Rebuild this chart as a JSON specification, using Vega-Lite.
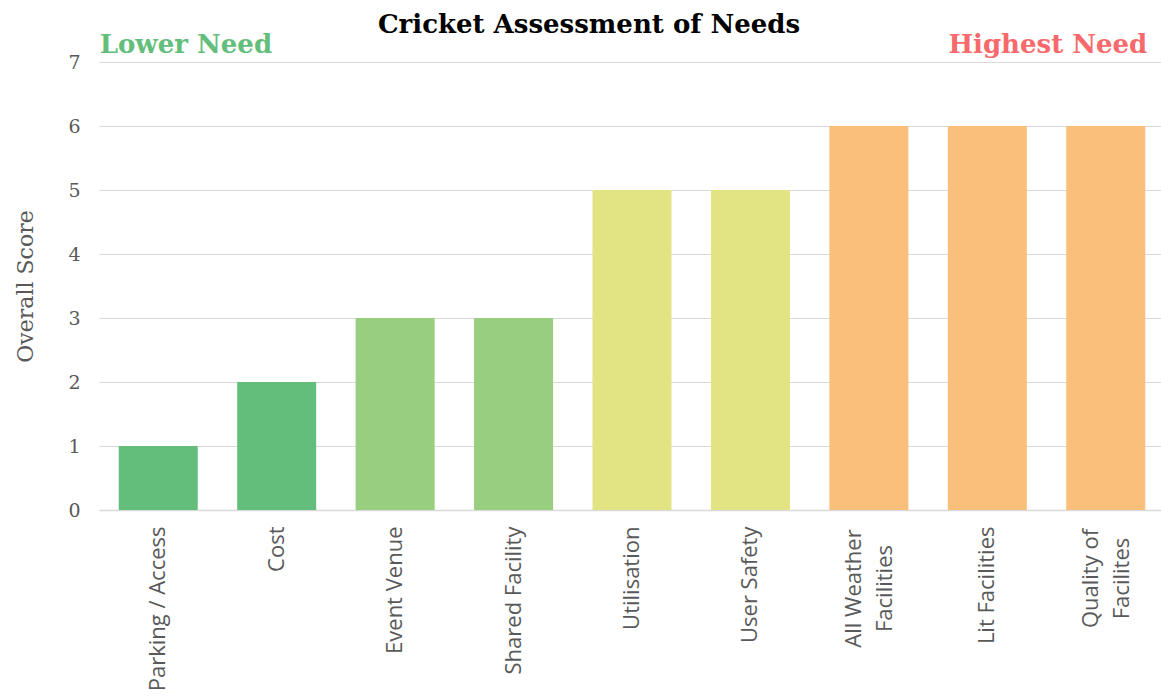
{
  "$schema": "https://vega.github.io/schema/vega-lite/v6.json",
  "autosize": "none",
  "padding": {"left": 99, "top": 62, "right": 0, "bottom": 190},
  "width": 1066,
  "height": 448,
  "background": "white",
  "title": {
    "text": "Cricket Assessment of Needs",
    "font": "DejaVu Serif",
    "fontSize": 26,
    "fontWeight": "bold",
    "color": "#000000",
    "anchor": "middle",
    "dx": -43,
    "offset": -6
  },
  "datasets": {
    "needs": [
      {"category": "Parking / Access", "score": 1},
      {"category": "Cost", "score": 2},
      {"category": "Event Venue", "score": 3},
      {"category": "Shared Facility", "score": 3},
      {"category": "Utilisation", "score": 5},
      {"category": "User Safety", "score": 5},
      {"category": "All Weather Facilities", "score": 6},
      {"category": "Lit Facilities", "score": 6},
      {"category": "Quality of Facilites", "score": 6}
    ],
    "notes": [
      {"label": "Lower Need", "category": "Parking / Access", "score": 7.14},
      {"label": "Highest Need", "category": "Quality of Facilites", "score": 7.14}
    ]
  },
  "config": {
    "view": {"stroke": null},
    "axis": {
      "labelColor": "#595959",
      "titleColor": "#595959",
      "gridColor": "#D9D9D9",
      "domainColor": "#D9D9D9",
      "ticks": false
    }
  },
  "layer": [
    {
      "data": {"name": "needs"},
      "mark": {"type": "bar"},
      "encoding": {
        "x": {
          "field": "category",
          "type": "nominal",
          "sort": null,
          "scale": {
            "domain": ["Parking / Access", "Cost", "Event Venue", "Shared Facility", "Utilisation", "User Safety", "All Weather Facilities", "Lit Facilities", "Quality of Facilites"],
            "paddingInner": 0.333,
            "paddingOuter": 0.1667
          },
          "axis": {
            "title": null,
            "labelAngle": -90,
            "labelFont": "Open Sans",
            "labelFontSize": 22,
            "labelLimit": 400,
            "labelLineHeight": 31,
            "labelExpr": "datum.label == 'All Weather Facilities' ? ['All Weather', 'Facilities'] : datum.label == 'Quality of Facilites' ? ['Quality of', 'Facilites'] : datum.label",
            "labelAlign": {"condition": {"test": "datum.label == 'All Weather Facilities' || datum.label == 'Quality of Facilites'", "value": "center"}, "value": "right"},
            "labelOffset": {"condition": {"test": "datum.label == 'All Weather Facilities' || datum.label == 'Quality of Facilites'", "value": -15}, "value": 0},
            "labelPadding": {"condition": [
              {"test": "datum.label == 'All Weather Facilities'", "value": 78},
              {"test": "datum.label == 'Quality of Facilites'", "value": 68}
            ], "value": 16},
            "domainWidth": 1.5
          }
        },
        "y": {
          "field": "score",
          "type": "quantitative",
          "scale": {"domain": [0, 7], "nice": false},
          "axis": {
            "title": "Overall Score",
            "titleFont": "DejaVu Serif",
            "titleFontSize": 22,
            "titleFontWeight": "normal",
            "titlePadding": 30,
            "labelFont": "DejaVu Serif",
            "labelFontSize": 19,
            "labelPadding": 19,
            "tickCount": 7,
            "domain": false,
            "grid": true
          }
        },
        "color": {
          "field": "score",
          "type": "ordinal",
          "scale": {"domain": [1, 2, 3, 5, 6], "range": ["#63BE7B", "#63BE7B", "#98CE7F", "#E2E383", "#FABF7B"]},
          "legend": null
        }
      }
    },
    {
      "data": {"name": "notes"},
      "transform": [{"filter": "datum.label == 'Lower Need'"}],
      "mark": {"type": "text", "align": "left", "baseline": "alphabetic", "font": "DejaVu Serif", "fontSize": 26, "fontWeight": "bold", "color": "#63BE7B", "dx": -19},
      "encoding": {
        "x": {"field": "category", "type": "nominal", "bandPosition": 0},
        "y": {"field": "score", "type": "quantitative"},
        "text": {"field": "label"}
      }
    },
    {
      "data": {"name": "notes"},
      "transform": [{"filter": "datum.label == 'Highest Need'"}],
      "mark": {"type": "text", "align": "right", "baseline": "alphabetic", "font": "DejaVu Serif", "fontSize": 26, "fontWeight": "bold", "color": "#F8696B", "dx": 2},
      "encoding": {
        "x": {"field": "category", "type": "nominal", "bandPosition": 1},
        "y": {"field": "score", "type": "quantitative"},
        "text": {"field": "label"}
      }
    }
  ]
}
